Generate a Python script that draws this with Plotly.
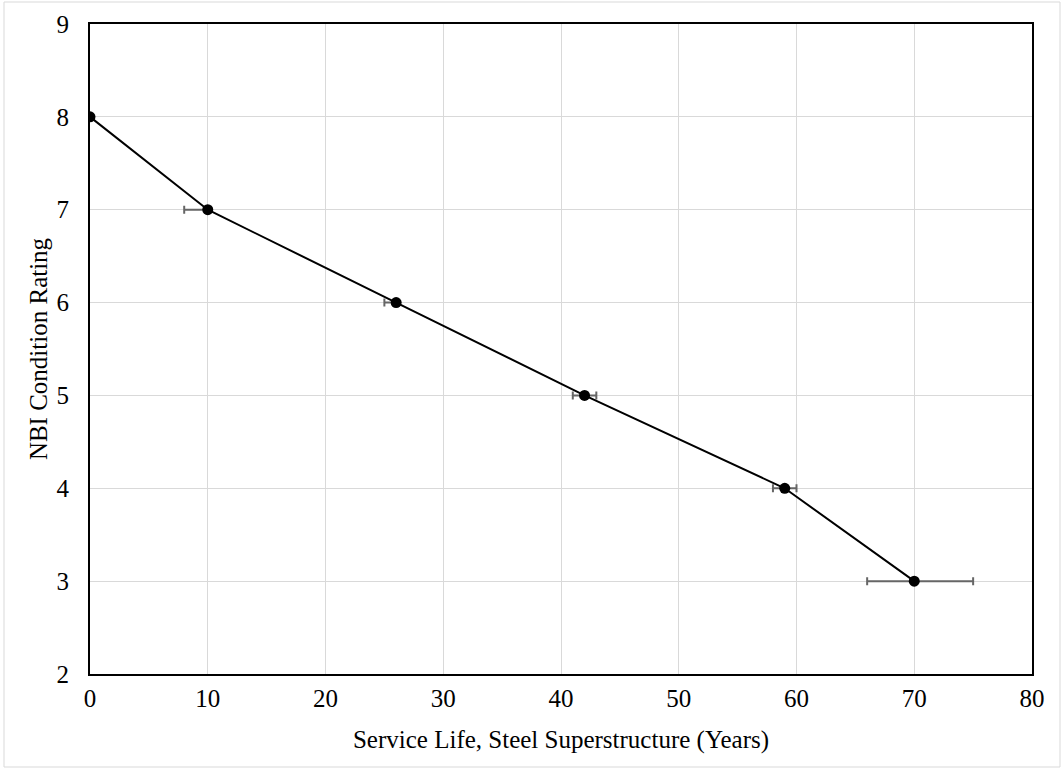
import plotly.graph_objects as go

# Mean service life (years) at which each NBI condition rating is reached
service_years = [0, 10, 26, 42, 59, 70]
condition_rating = [8, 7, 6, 5, 4, 3]
err_plus = [0, 0, 0, 1, 1, 5]
err_minus = [0, 2, 1, 1, 1, 4]

x_ticks = [0, 10, 20, 30, 40, 50, 60, 70, 80]
y_ticks = [2, 3, 4, 5, 6, 7, 8, 9]

FONT = "Liberation Serif, Times New Roman, serif"
FS = 25

fig = go.Figure()
fig.add_trace(go.Scatter(
    x=service_years,
    y=condition_rating,
    mode="lines+markers",
    line=dict(color="black", width=2),
    marker=dict(color="black", size=11),
    error_x=dict(
        type="data",
        symmetric=False,
        array=err_plus,
        arrayminus=err_minus,
        color="#666666",
        thickness=2,
        width=4,
    ),
    showlegend=False,
))

axis_common = dict(
    showline=True,
    linecolor="black",
    linewidth=2,
    mirror=True,
    showgrid=True,
    gridcolor="#d9d9d9",
    gridwidth=1,
    zeroline=False,
    tickcolor="rgba(0,0,0,0)",
    tickfont=dict(family=FONT, size=FS, color="black"),
)

fig.update_xaxes(
    range=[0, 80],
    tickvals=x_ticks,
    ticks="outside",
    ticklen=1,
    title=dict(text="Service Life, Steel Superstructure (Years)",
               font=dict(family=FONT, size=FS, color="black"), standoff=19),
    **axis_common,
)
fig.update_yaxes(
    range=[2, 9],
    tickvals=y_ticks,
    ticks="outside",
    ticklen=14,
    title=dict(text="NBI Condition Rating",
               font=dict(family=FONT, size=FS, color="black"), standoff=2),
    **axis_common,
)

# thin light frame around the whole figure
fig.add_shape(
    type="rect", xref="paper", yref="paper",
    x0=(4 - 90) / 942, x1=(1060 - 90) / 942,
    y0=(674 - 767) / 650, y1=(674 - 2) / 650,
    line=dict(color="#d9d9d9", width=1),
    layer="below",
)

fig.update_layout(
    width=1062,
    height=769,
    margin=dict(l=90, r=30, t=24, b=95),
    plot_bgcolor="white",
    paper_bgcolor="white",
    font=dict(family=FONT, color="black"),
)

fig.write_html("out.html")
